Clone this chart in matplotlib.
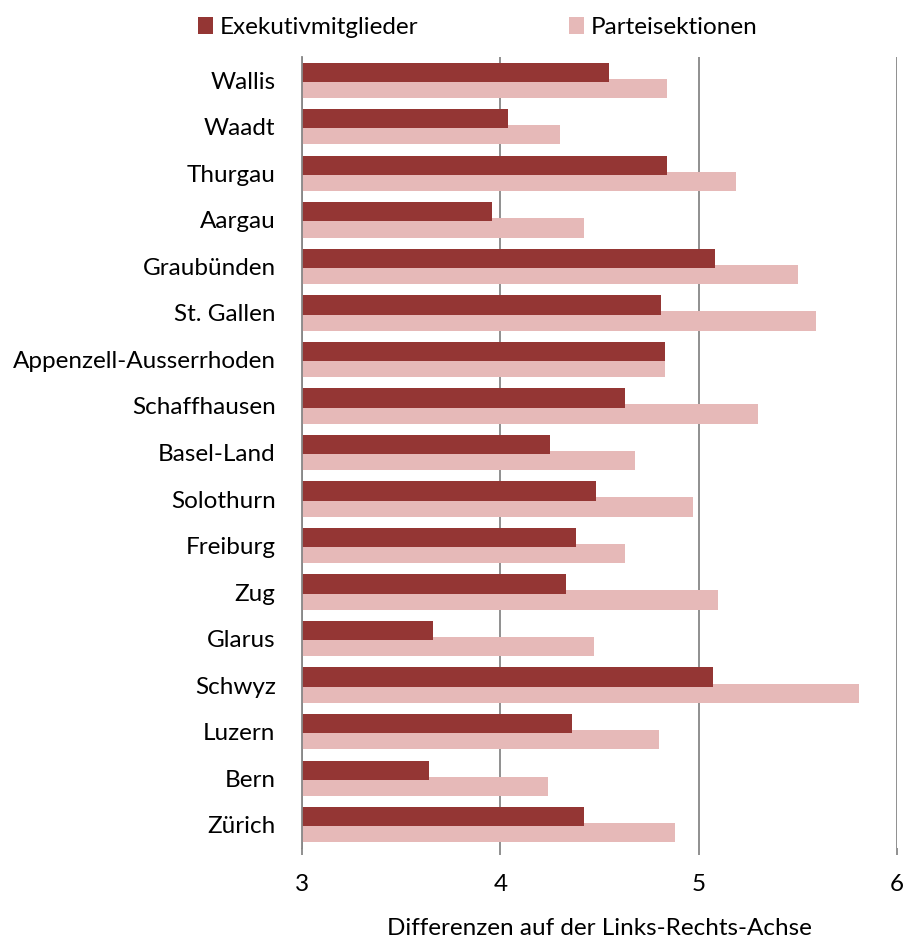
import numpy as np
import matplotlib.pyplot as plt

# Kantone, von unten nach oben gezeichnet
kantone = ['Zürich', 'Bern', 'Luzern', 'Schwyz', 'Glarus', 'Zug', 'Freiburg',
           'Solothurn', 'Basel-Land', 'Schaffhausen', 'Appenzell-Ausserrhoden',
           'St. Gallen', 'Graubünden', 'Aargau', 'Thurgau', 'Waadt', 'Wallis']

exekutiv = [4.42, 3.64, 4.36, 5.07, 3.66, 4.33, 4.38,
            4.48, 4.25, 4.63, 4.83,
            4.81, 5.08, 3.96, 4.84, 4.04, 4.55]

sektionen = [4.88, 4.24, 4.80, 5.81, 4.47, 5.10, 4.63,
             4.97, 4.68, 5.30, 4.83,
             5.59, 5.50, 4.42, 5.19, 4.30, 4.84]

xticks = [3, 4, 5, 6]

dark = '#943634'
light = '#E6B9B8'
grid_col = '#878787'
fs = 17.5

plt.rcParams['font.family'] = ['Lato', 'DejaVu Sans']

fig = plt.figure(figsize=(9.06, 9.52), dpi=100)
ax = fig.add_axes([302 / 906, 1 - 848 / 952, (897 - 302) / 906, (848 - 57) / 952])

y = np.arange(len(kantone))
h = 0.415
off = 0.173

ax.barh(y - off, sektionen, height=h, left=0, color=light, label='Parteisektionen', zorder=2)
ax.barh(y + off, exekutiv, height=h, left=0, color=dark, label='Exekutivmitglieder', zorder=3)

ax.set_xlim(3, 6)
ax.set_ylim(-0.5, len(kantone) - 0.5)
ax.set_xticks(xticks)
ax.set_xticklabels([str(t) for t in xticks])
ax.set_yticks(y)
ax.set_yticklabels(kantone)

ax.grid(axis='x', color=grid_col, linewidth=1.3, zorder=1)
ax.grid(axis='y', visible=False)
for side in ['top', 'right', 'bottom']:
    ax.spines[side].set_visible(False)
ax.spines['left'].set_color(grid_col)
ax.spines['left'].set_linewidth(1.3)
ax.spines['left'].set_zorder(4)

ax.tick_params(axis='x', length=5, width=1.3, color=grid_col, pad=14, labelsize=fs)
ax.tick_params(axis='y', length=0, pad=19, labelsize=fs)

ax.set_xlabel('Differenzen auf der Links-Rechts-Achse', fontsize=fs, labelpad=16)

handles, labels = ax.get_legend_handles_labels()
fig.legend(handles[::-1], labels[::-1], loc='center', bbox_to_anchor=(0.527, 0.971),
           ncol=2, frameon=False, fontsize=fs, handlelength=0.65, handleheight=0.65,
           handletextpad=0.25, columnspacing=6.2)

fig.savefig('out.png', dpi=100)
